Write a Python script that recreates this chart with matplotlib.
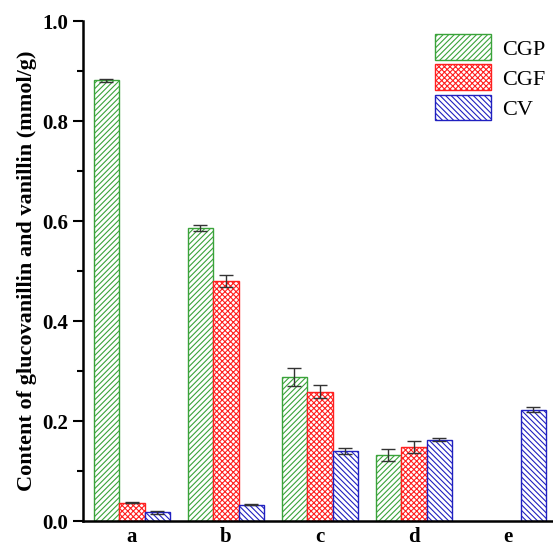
import matplotlib
matplotlib.use("Agg")
import matplotlib.pyplot as plt
import numpy as np
from matplotlib.ticker import MultipleLocator

categories = ["a", "b", "c", "d", "e"]
series = ["CGP", "CGF", "CV"]
cgp = [0.882, 0.587, 0.289, 0.133, np.nan]
cgp_err = [0.003, 0.006, 0.018, 0.012, 0.0]
cgf = [0.037, 0.480, 0.259, 0.149, np.nan]
cgf_err = [0.001, 0.012, 0.013, 0.012, 0.0]
cv = [0.018, 0.033, 0.140, 0.163, 0.223]
cv_err = [0.003, 0.001, 0.006, 0.003, 0.005]

plt.rcParams['font.family'] = ['Liberation Serif', 'DejaVu Serif']
plt.rcParams['font.weight'] = 'bold'
plt.rcParams['hatch.linewidth'] = 0.8

fig = plt.figure(figsize=(5.53, 5.47), dpi=100)
ax = fig.add_axes([0.150, 0.0475, 0.85, 0.9141])

x = np.arange(len(categories))
w = 0.27
colors = ["#3aa33a", "#ff2020", "#2020c0"]
hatches = ["//////", "xxxxxx", "\\\\\\\\\\\\"]
vals = [cgp, cgf, cv]
errs = [cgp_err, cgf_err, cv_err]
for i, (v, e, c, h, lab) in enumerate(zip(vals, errs, colors, hatches, series)):
    xs = x + (i - 1) * w
    ax.bar(xs, v, w, facecolor="white", edgecolor=c, hatch=h, linewidth=1.0, label=lab)
    v_arr = np.array(v, dtype=float)
    mask = ~np.isnan(v_arr)
    ax.errorbar(xs[mask], v_arr[mask], yerr=np.array(e)[mask], fmt="none",
                ecolor="#333333", elinewidth=1.0, capsize=5, capthick=1.0)

ax.set_xlim(-0.52, 4.48)
ax.set_ylim(0, 1.0)
ax.set_xticks(x)
ax.set_xticklabels(categories, fontsize=15, fontweight='bold')
ax.tick_params(axis='x', length=0, pad=4)
ax.yaxis.set_minor_locator(MultipleLocator(0.1))
ax.set_yticks([0, 0.2, 0.4, 0.6, 0.8, 1.0])
ax.set_yticklabels(["0.0", "0.2", "0.4", "0.6", "0.8", "1.0"], fontsize=15, fontweight='bold')
ax.tick_params(axis='y', which='major', length=7, width=1.5, direction='out')
ax.tick_params(axis='y', which='minor', length=4, width=1.5, direction='out')
for s in ["top", "right"]:
    ax.spines[s].set_visible(False)
ax.spines["left"].set_linewidth(1.8)
ax.spines["bottom"].set_linewidth(1.8)
ax.set_ylabel("Content of glucovanillin and vanillin (mmol/g)", fontsize=16, fontweight='bold', labelpad=4)

leg = ax.legend(loc="upper right", bbox_to_anchor=(1.012, 1.0), frameon=False, fontsize=16,
                handlelength=2.5, handleheight=1.4, handletextpad=0.5, labelspacing=0.2,
                borderaxespad=0.2)
for t in leg.get_texts():
    t.set_fontweight('normal')

fig.savefig("out.png", dpi=100)
